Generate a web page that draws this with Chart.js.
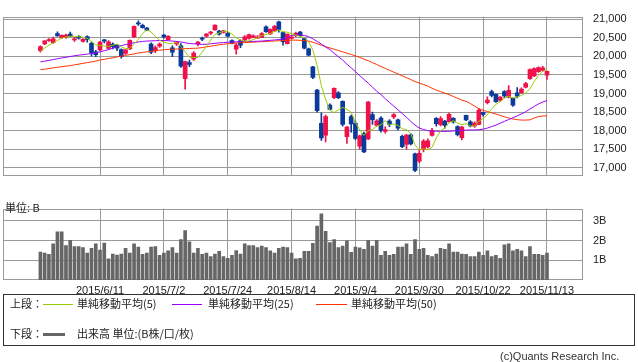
<!DOCTYPE html>
<html lang="ja">
<head>
<meta charset="utf-8">
<title>日経平均 日足</title>
<script src="https://cdn.jsdelivr.net/npm/chart.js@4.4.1/dist/chart.umd.min.js"></script>
<style>
  html, body { margin: 0; padding: 0; background: #fff; }
  #page { position: relative; width: 638px; height: 362px; overflow: hidden; color: #222; }
  #priceChart { position: absolute; left: 0; top: 0; }
  #volumeChart { position: absolute; left: 0; top: 192px; }
  .unit { position: absolute; left: 5px; top: 201px; font: 11px "Noto Sans CJK JP", sans-serif; line-height: 13px; }
  #legendBox { position: absolute; left: 3px; top: 294px; width: 632px; height: 52px; border: 1px solid #333; box-sizing: border-box; }
  #legendBox span { position: absolute; font: 11px "Noto Sans CJK JP", sans-serif; line-height: 13px; white-space: nowrap; }
  #legendBox i { position: absolute; height: 1px; }
  .copy { position: absolute; left: 500px; top: 350px; font: 11px "Liberation Sans", sans-serif; color: #333; }
</style>
</head>
<body>
<div id="page">
  <canvas id="priceChart" width="638" height="192"></canvas>
  <canvas id="volumeChart" width="638" height="110"></canvas>
  <div class="unit">単位: B</div>
  <div id="legendBox">
    <span style="left:6px;top:2px">上段：</span>
    <i style="left:39px;top:9px;width:30px;background:#99cc00"></i>
    <span style="left:73px;top:2px">単純移動平均(5)</span>
    <i style="left:168px;top:9px;width:30px;background:#9900ff"></i>
    <span style="left:204px;top:2px">単純移動平均(25)</span>
    <i style="left:312px;top:9px;width:31px;background:#ff3300"></i>
    <span style="left:347px;top:2px">単純移動平均(50)</span>
    <span style="left:6px;top:32px">下段：</span>
    <i style="left:39px;top:38px;width:22px;height:3px;background:#666"></i>
    <span style="left:73px;top:32px">出来高 単位:(B株/口/枚)</span>
  </div>
  <div class="copy">(c)Quants Research Inc.</div>
</div>
<script>
// daily bars, 2015/5/22 - 2015/11/13
const dates = [
  '2015/5/22','2015/5/25','2015/5/26','2015/5/27','2015/5/28','2015/5/29','2015/6/1','2015/6/2','2015/6/3','2015/6/4',
  '2015/6/5','2015/6/8','2015/6/9','2015/6/10','2015/6/11','2015/6/12','2015/6/15','2015/6/16','2015/6/17','2015/6/18',
  '2015/6/19','2015/6/22','2015/6/23','2015/6/24','2015/6/25','2015/6/26','2015/6/29','2015/6/30','2015/7/1','2015/7/2',
  '2015/7/3','2015/7/6','2015/7/7','2015/7/8','2015/7/9','2015/7/10','2015/7/13','2015/7/14','2015/7/15','2015/7/16',
  '2015/7/17','2015/7/21','2015/7/22','2015/7/23','2015/7/24','2015/7/27','2015/7/28','2015/7/29','2015/7/30','2015/7/31',
  '2015/8/3','2015/8/4','2015/8/5','2015/8/6','2015/8/7','2015/8/10','2015/8/11','2015/8/12','2015/8/13','2015/8/14',
  '2015/8/17','2015/8/18','2015/8/19','2015/8/20','2015/8/21','2015/8/24','2015/8/25','2015/8/26','2015/8/27','2015/8/28',
  '2015/8/31','2015/9/1','2015/9/2','2015/9/3','2015/9/4','2015/9/7','2015/9/8','2015/9/9','2015/9/10','2015/9/11',
  '2015/9/14','2015/9/15','2015/9/16','2015/9/17','2015/9/18','2015/9/24','2015/9/25','2015/9/28','2015/9/29','2015/9/30',
  '2015/10/1','2015/10/2','2015/10/5','2015/10/6','2015/10/7','2015/10/8','2015/10/9','2015/10/13','2015/10/14','2015/10/15',
  '2015/10/16','2015/10/19','2015/10/20','2015/10/21','2015/10/22','2015/10/23','2015/10/26','2015/10/27','2015/10/28','2015/10/29',
  '2015/10/30','2015/11/2','2015/11/4','2015/11/5','2015/11/6','2015/11/9','2015/11/10','2015/11/11','2015/11/12','2015/11/13'
];
const opens = [
  20150,20330,20420,20370,20610,20500,20510,20600,20440,20530,
  20400,20530,20350,20120,20170,20440,20210,20330,20300,20180,
  20080,20200,20520,20900,20830,20760,20330,20150,20270,20570,
  20450,20230,20330,20280,19400,19830,19920,20330,20490,20540,
  20620,20710,20680,20640,20620,20420,20190,20420,20440,20480,
  20510,20490,20510,20790,20600,20680,20930,20640,20340,20480,
  20560,20650,20480,20200,19720,19090,18200,17880,18690,18890,
  19020,18790,17840,18380,18200,17580,17930,17780,18430,18140,
  18340,17980,18260,18370,18290,17850,17630,17890,17380,17180,
  17490,17560,17870,18330,18160,18260,18240,18330,18110,17810,
  18410,18240,18130,18170,18490,18750,19050,18980,18820,19050,
  18900,18870,19020,19020,19170,19400,19470,19590,19620,19490
];
const highs = [
  20280,20420,20480,20520,20660,20580,20600,20650,20510,20560,
  20480,20550,20380,20160,20400,20460,20420,20360,20320,20200,
  20180,20440,20820,20952,20870,20780,20360,20280,20360,20590,
  20560,20280,20400,20340,19870,19900,20130,20400,20520,20620,
  20670,20850,20700,20700,20650,20440,20340,20440,20560,20600,
  20580,20560,20640,20820,20740,20830,20946,20660,20600,20560,
  20650,20670,20500,20220,19730,19110,18480,18420,18720,19150,
  19050,18800,18120,18420,18260,17880,17960,18790,18500,18300,
  18380,18100,18300,18460,18310,17880,17900,17920,17400,17500,
  17760,17780,18060,18350,18380,18280,18470,18350,18130,18120,
  18420,18270,18240,18600,18500,18910,19090,18990,18920,19080,
  19210,18880,19160,19150,19300,19660,19690,19720,19730,19600
];
const lows = [
  20110,20310,20400,20350,20540,20480,20480,20530,20400,20460,
  20380,20380,20010,19990,20150,20360,20190,20200,20150,19950,
  20050,20180,20500,20830,20760,20690,20070,20100,20240,20490,
  20440,19990,20290,19700,19115,19720,19890,20280,20420,20510,
  20580,20700,20570,20620,20520,20330,20060,20230,20420,20460,
  20500,20480,20500,20640,20590,20670,20650,20300,20330,20470,
  20530,20530,20200,20010,19400,18500,17740,17700,18560,18860,
  18860,18120,17660,17960,17760,17500,17410,17760,18170,18120,
  17960,17930,18110,18320,18020,17540,17500,17620,16900,17140,
  17430,17530,17850,18120,18130,18070,18230,18200,17860,17750,
  18270,18100,18090,18160,18390,18720,18910,18760,18790,18890,
  18880,18650,18880,19000,19150,19380,19450,19570,19600,19380
];
const closes = [
  20264,20413,20437,20472,20551,20563,20569,20543,20473,20488,
  20460,20457,20096,20046,20382,20407,20387,20257,20219,19990,
  20174,20428,20809,20868,20771,20706,20109,20235,20329,20522,
  20539,20112,20376,19737,19855,19779,20089,20385,20463,20600,
  20650,20841,20593,20683,20544,20350,20303,20302,20522,20585,
  20548,20520,20614,20664,20724,20808,20720,20392,20595,20519,
  20620,20554,20222,20033,19435,18540,17806,18376,18574,19136,
  18890,18165,18095,18182,17792,17860,17427,18770,18299,18264,
  18005,18026,18171,18432,18070,17571,17880,17645,16930,17388,
  17722,17725,18005,18186,18322,18141,18438,18234,17891,18096,
  18291,18131,18207,18554,18435,18825,18947,18777,18903,18935,
  19083,18683,18926,19116,19265,19642,19671,19697,19691,19596
];
const ma5 = [
  20143,20220,20302,20358,20427,20487,20518,20540,20540,20527,
  20507,20484,20395,20309,20288,20278,20264,20296,20330,20252,
  20205,20214,20324,20454,20610,20716,20653,20538,20430,20380,
  20347,20347,20376,20257,20124,19972,19967,19969,20114,20263,
  20437,20588,20629,20673,20662,20602,20495,20436,20404,20412,
  20452,20495,20558,20586,20614,20666,20706,20662,20648,20607,
  20569,20536,20502,20390,20173,19757,19207,18838,18546,18486,
  18556,18628,18572,18494,18225,18019,17871,18006,18030,18124,
  18153,18273,18153,18180,18141,18054,18025,17920,17619,17483,
  17513,17482,17554,17805,17992,18076,18218,18264,18205,18160,
  18190,18129,18123,18256,18324,18430,18594,18708,18777,18877,
  18929,18876,18906,18949,19015,19126,19324,19478,19593,19659
];
const ma25 = [
  19850,19870,19890,19910,19935,19955,19975,19995,20015,20030,
  20045,20060,20075,20095,20120,20150,20180,20220,20260,20290,
  20315,20340,20365,20385,20400,20410,20415,20420,20425,20425,
  20420,20410,20400,20385,20365,20345,20335,20330,20320,20325,
  20335,20350,20360,20370,20380,20385,20390,20395,20398,20400,
  20402,20405,20410,20420,20430,20440,20450,20465,20500,20560,
  20580,20575,20560,20530,20470,20400,20330,20250,20180,20080,
  19990,19900,19790,19690,19590,19480,19380,19280,19170,19060,
  18970,18860,18760,18660,18560,18460,18360,18250,18150,18070,
  18030,18000,17990,17985,17980,17980,17985,17990,18000,18010,
  18015,18020,18020,18025,18040,18070,18110,18150,18200,18250,
  18300,18345,18400,18450,18510,18580,18650,18720,18770,18810
];
const ma50 = [
  19640,19655,19670,19690,19705,19720,19735,19750,19770,19790,
  19810,19830,19850,19870,19900,19920,19940,19960,19985,20005,
  20025,20045,20065,20090,20105,20120,20135,20150,20165,20175,
  20185,20190,20195,20200,20205,20210,20215,20220,20235,20255,
  20270,20290,20310,20325,20337,20347,20356,20364,20370,20376,
  20382,20388,20394,20400,20406,20412,20418,20424,20430,20435,
  20435,20430,20420,20410,20380,20340,20300,20260,20225,20190,
  20155,20120,20085,20050,20010,19970,19925,19880,19830,19780,
  19725,19675,19625,19575,19525,19475,19425,19375,19320,19280,
  19240,19200,19140,19090,19050,19010,18970,18920,18870,18820,
  18790,18730,18660,18590,18550,18515,18480,18450,18410,18375,
  18340,18315,18295,18285,18285,18290,18340,18380,18395,18400
];
// volume, billions of shares
const volumes = [
  1.42,1.37,1.30,1.83,2.44,2.44,1.75,2.01,1.70,1.70,
  1.64,1.37,1.60,1.83,1.52,1.87,1.07,1.32,1.26,1.32,
  1.60,1.37,1.83,1.67,1.30,1.37,1.67,1.70,1.25,1.37,
  1.48,1.64,1.37,2.05,2.51,1.93,1.37,1.60,1.30,1.37,
  1.19,1.32,1.45,1.19,1.10,1.25,1.49,1.32,1.83,1.75,
  1.75,1.64,1.72,1.64,1.48,1.37,1.60,1.67,1.64,1.37,
  1.07,1.10,1.45,1.45,1.86,2.74,3.35,2.47,1.90,2.05,
  1.64,1.72,1.98,1.40,1.67,1.63,1.55,2.01,1.72,2.01,
  1.25,1.45,1.25,1.30,1.67,1.67,1.83,1.30,2.05,1.55,
  1.60,1.25,1.19,1.32,1.60,1.55,1.83,1.42,1.42,1.32,
  1.30,1.19,1.19,1.42,1.25,1.48,1.19,1.25,1.10,1.78,
  1.83,1.48,1.55,1.48,1.19,1.70,1.30,1.30,1.25,1.37
];
const dateTicks = ['2015/6/11','2015/7/2','2015/7/24','2015/8/14','2015/9/4','2015/9/30','2015/10/22','2015/11/13'];
const priceTicks = [17000, 17500, 18000, 18500, 19000, 19500, 20000, 20500, 21000];
const volumeTicks = [1, 2, 3];

Chart.defaults.font.family = '"Liberation Sans", Arial, sans-serif';
Chart.defaults.font.size = 11;
Chart.defaults.color = '#222';

const UP = '#f0104a';
const DOWN = '#0a3a9a';
const GRID = '#9a9a9a';
const xMin = -8.79, xMax = 127.46;

const candleColors = closes.map((c, i) => c >= opens[i] ? UP : DOWN);
const tickIndex = dateTicks.map(d => dates.indexOf(d));

// box around the plot area
const frame = {
    id: 'frame',
    beforeDatasetsDraw(chart) {
        const a = chart.chartArea;
        const ctx = chart.ctx;
        ctx.save();
        ctx.strokeStyle = GRID;
        ctx.lineWidth = 1;
        ctx.strokeRect(Math.round(a.left) + 0.5, Math.round(a.top) + 0.5,
            Math.round(a.right - a.left) - 1, Math.round(a.bottom - a.top) - 1);
        ctx.restore();
    }
};

function xAxis(showLabels, height) {
    return {
        type: 'linear',
        min: xMin,
        max: xMax,
        offset: false,
        afterBuildTicks: s => { s.ticks = tickIndex.map(v => ({ value: v })); },
        afterFit: s => { s.height = height; },
        grid: { color: GRID, drawTicks: false, offset: false },
        border: { display: false },
        ticks: {
            display: showLabels,
            autoSkip: false,
            maxRotation: 0,
            padding: 4,
            color: '#222',
            callback: v => dates[v]
        }
    };
}

function maLine(values, color) {
    return {
        type: 'line',
        data: values.map((v, i) => ({ x: i, y: v })),
        borderColor: color,
        borderWidth: 1,
        pointRadius: 0,
        tension: 0,
        order: 0
    };
}

new Chart(document.getElementById('priceChart'), {
    type: 'bar',
    data: {
        datasets: [
            maLine(ma5, '#99cc00'),
            maLine(ma25, '#9900ff'),
            maLine(ma50, '#ff3300'),
            {
                // candle bodies
                data: dates.map((d, i) => ({ x: i, y: [opens[i], closes[i]] })),
                backgroundColor: candleColors,
                barThickness: 4,
                minBarLength: 1,
                grouped: false,
                borderWidth: 0,
                order: 1
            },
            {
                // wicks
                data: dates.map((d, i) => ({ x: i, y: [lows[i], highs[i]] })),
                backgroundColor: candleColors,
                barThickness: 1,
                grouped: false,
                borderWidth: 0,
                order: 2
            }
        ]
    },
    options: {
        responsive: false,
        animation: false,
        layout: { padding: { left: 3, top: 1, right: 0, bottom: 2 } },
        plugins: { legend: { display: false }, tooltip: { enabled: false } },
        scales: {
            x: xAxis(false, 0),
            y: {
                position: 'right',
                min: 16797,
                max: 21068,
                afterBuildTicks: s => { s.ticks = priceTicks.map(v => ({ value: v })); },
                afterFit: s => { s.width = 55; },
                grid: { color: GRID, drawTicks: false },
                border: { display: false },
                ticks: { padding: 10, color: '#222', callback: v => v.toLocaleString('en-US') }
            }
        }
    },
    plugins: [frame]
});

new Chart(document.getElementById('volumeChart'), {
    type: 'bar',
    data: {
        datasets: [{
            data: volumes.map((v, i) => ({ x: i, y: v })),
            backgroundColor: '#666666',
            barThickness: 3,
            grouped: false,
            borderWidth: 0
        }]
    },
    options: {
        responsive: false,
        animation: false,
        layout: { padding: { left: 3, top: 9, right: 0, bottom: 0 } },
        plugins: { legend: { display: false }, tooltip: { enabled: false } },
        scales: {
            x: xAxis(true, 22),
            y: {
                position: 'right',
                min: 0,
                max: 3.62,
                afterBuildTicks: s => { s.ticks = volumeTicks.map(v => ({ value: v })); },
                afterFit: s => { s.width = 55; },
                grid: { color: GRID, drawTicks: false },
                border: { display: false },
                ticks: { padding: 10, color: '#222', callback: v => v + 'B' }
            }
        }
    },
    plugins: [frame]
});
</script>
</body>
</html>
